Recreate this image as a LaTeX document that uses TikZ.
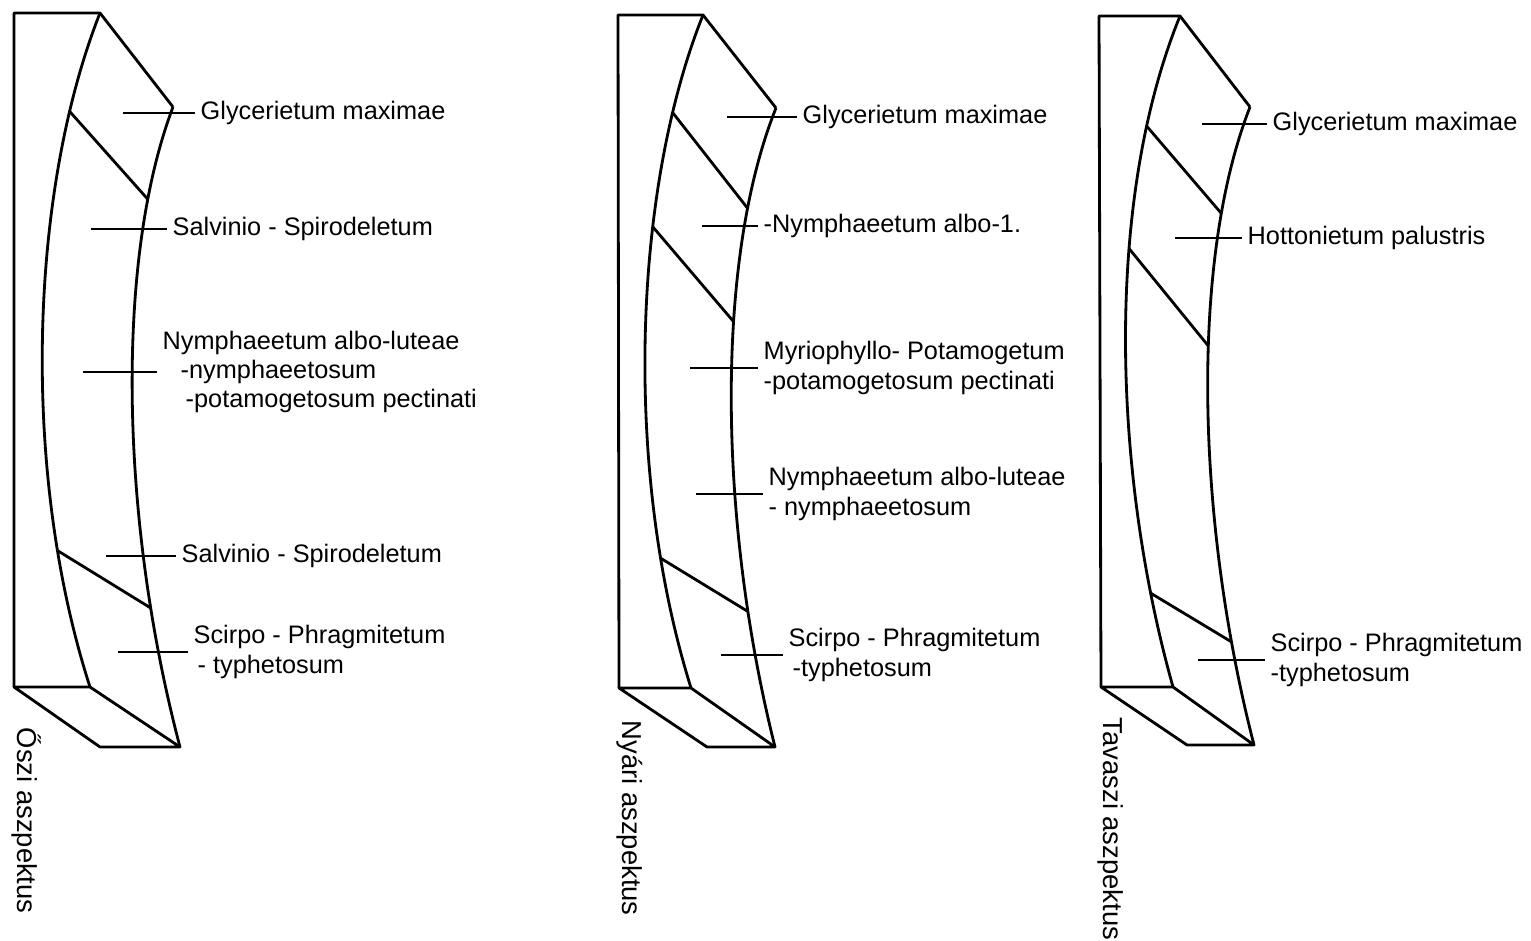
\documentclass[tikz,border=0pt]{standalone}
\usepackage{fontspec}
\setmainfont{Liberation Sans}
\usepackage{tikz}

\begin{document}
\begin{tikzpicture}[x=0.1mm, y=-0.1mm,
  edge/.style={line width=0.8pt, line join=round},
  tick/.style={line width=0.6pt},
  lbl/.style={anchor=west, align=left, inner xsep=0.5mm, inner ysep=0.5mm, font=\fontsize{7.2}{8.3}\selectfont},
  aspect/.style={rotate=-90, anchor=base west, inner sep=0pt, font=\fontsize{7.8}{9.4}\selectfont}]
\useasboundingbox (0,0) rectangle (1531,941);

% Oszi aszpektus
\draw[edge] (14,687) -- (14,13) -- (100,13) -- (173,107);
\draw[edge] (100,13) .. controls (30,190) and (20,470) .. (90,687)
  coordinate[pos=0.17] (oi1) coordinate[pos=0.8] (oi2);
\draw[edge] (173,107) .. controls (115,260) and (120,520) .. (180,747)
  coordinate[pos=0.18] (oo1) coordinate[pos=0.8] (oo2);
\draw[edge] (oi1) -- (oo1);
\draw[edge] (oi2) -- (oo2);
\draw[edge] (14,687) -- (90,687) -- (180,747) -- (100,747) -- cycle;

\coordinate (o1) at (123,113);
\coordinate (o2) at (91,229);
\coordinate (o3) at (83,372);
\coordinate (o4) at (106,556);
\coordinate (o5) at (118,652);
\node[lbl] (oGly) at (195,113) {Glycerietum maximae};
\node[lbl] (oSal) at (167,229) {Salvinio - Spirodeletum};
\node[lbl] (oNym) at (157,372) {Nymphaeetum albo-luteae\\\hspace{1.8mm}-nymphaeetosum\\\hspace{2.3mm}-potamogetosum pectinati};
\node[lbl] (oSal2) at (176,556) {Salvinio - Spirodeletum};
\node[lbl] (oSci) at (188,652) {Scirpo - Phragmitetum\\\hspace{0.4mm}- typhetosum};
\draw[tick] (o1) -- (oGly);
\draw[tick] (o2) -- (oSal);
\draw[tick] (o3) -- (oNym);
\draw[tick] (o4) -- (oSal2);
\draw[tick] (o5) -- (oSci);
\node[aspect] (oAsp) at (17,727) {Őszi aszpektus};

% Nyari aszpektus
\draw[edge] (619,688) -- (618,15) -- (703,15) -- (776,108);
\draw[edge] (703,15) .. controls (633,190) and (623,470) .. (691,688)
  coordinate[pos=0.17] (nyi1) coordinate[pos=0.345] (nyi2) coordinate[pos=0.81] (nyi3);
\draw[edge] (776,108) .. controls (715,260) and (718,520) .. (775,747)
  coordinate[pos=0.195] (nyo1) coordinate[pos=0.382] (nyo2) coordinate[pos=0.805] (nyo3);
\draw[edge] (nyi1) -- (nyo1);
\draw[edge] (nyi2) -- (nyo2);
\draw[edge] (nyi3) -- (nyo3);
\draw[edge] (619,688) -- (691,688) -- (775,747) -- (707,747) -- cycle;

\coordinate (ny1) at (727,117);
\coordinate (ny2) at (702,226);
\coordinate (ny3) at (690,368);
\coordinate (ny4) at (696,494);
\coordinate (ny5) at (721,655);
\node[lbl] (nyGly) at (797,117) {Glycerietum maximae};
\node[lbl] (nyNym) at (758,226) {-Nymphaeetum albo-1.};
\node[lbl] (nyMyr) at (758,368) {Myriophyllo- Potamogetum\\-potamogetosum pectinati};
\node[lbl] (nyNym2) at (763,494) {Nymphaeetum albo-luteae\\- nymphaeetosum};
\node[lbl] (nySci) at (783,655) {Scirpo - Phragmitetum\\\hspace{0.4mm}-typhetosum};
\draw[tick] (ny1) -- (nyGly);
\draw[tick] (ny2) -- (nyNym);
\draw[tick] (ny3) -- (nyMyr);
\draw[tick] (ny4) -- (nyNym2);
\draw[tick] (ny5) -- (nySci);
\node[aspect] (nyAsp) at (622,720) {Nyári aszpektus};

% Tavaszi aszpektus
\draw[edge] (1101,687) -- (1099,16) -- (1180,16) -- (1250,107);
\draw[edge] (1180,16) .. controls (1105,200) and (1112,470) .. (1173,687)
  coordinate[pos=0.185] (ti1) coordinate[pos=0.37] (ti2) coordinate[pos=0.86] (ti3);
\draw[edge] (1250,107) .. controls (1190,260) and (1196,520) .. (1254,745)
  coordinate[pos=0.205] (to1) coordinate[pos=0.42] (to2) coordinate[pos=0.85] (to3);
\draw[edge] (ti1) -- (to1);
\draw[edge] (ti2) -- (to2);
\draw[edge] (ti3) -- (to3);
\draw[edge] (1101,687) -- (1173,687) -- (1254,745) -- (1187,745) -- cycle;

\coordinate (t1) at (1202,124);
\coordinate (t2) at (1175,238);
\coordinate (t3) at (1198,660);
\node[lbl] (tGly) at (1267,124) {Glycerietum maximae};
\node[lbl] (tHot) at (1242,238) {Hottonietum palustris};
\node[lbl] (tSci) at (1265,660) {Scirpo - Phragmitetum\\-typhetosum};
\draw[tick] (t1) -- (tGly);
\draw[tick] (t2) -- (tHot);
\draw[tick] (t3) -- (tSci);
\node[aspect] (tAsp) at (1103,717) {Tavaszi aszpektus};
\end{tikzpicture}
\end{document}
